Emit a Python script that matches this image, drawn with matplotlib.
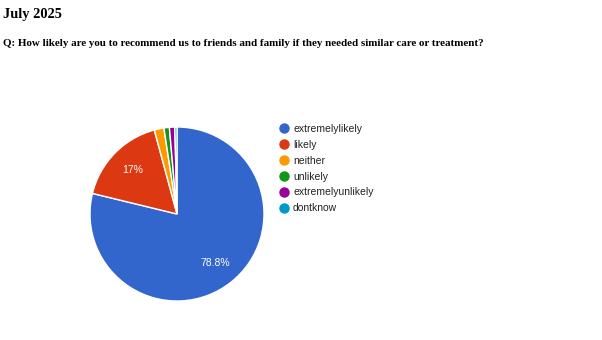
import matplotlib
matplotlib.use("Agg")
import matplotlib.pyplot as plt
from matplotlib.lines import Line2D

# Survey responses, July 2025
categories = ["extremelylikely", "likely", "neither", "unlikely",
              "extremelyunlikely", "dontknow"]
shares = [78.8, 17.0, 1.8, 1.0, 1.0, 0.4]
colors = ["#3366cc", "#dc3912", "#ff9900", "#109618", "#990099", "#0099c6"]

W, H = 602, 340
fig = plt.figure(figsize=(W / 100, H / 100), dpi=100)
fig.patch.set_facecolor("white")

# headings
fig.text(3 / W, 1 - 14.5 / H, "July 2025", family="Liberation Serif",
         fontweight="bold", fontsize=10.4, va="center", ha="left")
fig.text(3 / W, 1 - 44 / H,
         "Q: How likely are you to recommend us to friends and family "
         "if they needed similar care or treatment?",
         family="Liberation Serif", fontweight="bold", fontsize=7.9,
         va="center", ha="left")

# pie centred at (177, 214) px with radius ~87 px
cx, cy, r = 177, 214, 87
ax = fig.add_axes([(cx - r) / W, (H - cy - r) / H, 2 * r / W, 2 * r / H])


def fmt(p):
    if p < 5:
        return ""
    s = f"{p:.1f}"
    return s[:-2] + "%" if s.endswith(".0") else s + "%"


wedges, texts, autotexts = ax.pie(
    shares, colors=colors, startangle=90, counterclock=False,
    autopct=fmt, pctdistance=0.72,
    wedgeprops=dict(edgecolor="white", linewidth=1),
    textprops=dict(color="white", fontsize=7.5, family="Liberation Sans"))
ax.set_xlim(-1, 1)
ax.set_ylim(-1, 1)
ax.set_aspect("auto")
ax.axis("off")

# legend with round markers
handles = [Line2D([], [], marker="o", linestyle="none", markersize=6.5,
                  markerfacecolor=c, markeredgecolor=c) for c in colors]
fig.legend(handles, categories, loc="upper left",
           bbox_to_anchor=(279 / W, 1 - 124 / H), frameon=False,
           prop=dict(family="Liberation Sans", size=7.5),
           labelspacing=0.56, handletextpad=0.35, handlelength=1.0,
           borderaxespad=0, borderpad=0, labelcolor="#222222")

fig.savefig("out.png", dpi=100, facecolor="white")
